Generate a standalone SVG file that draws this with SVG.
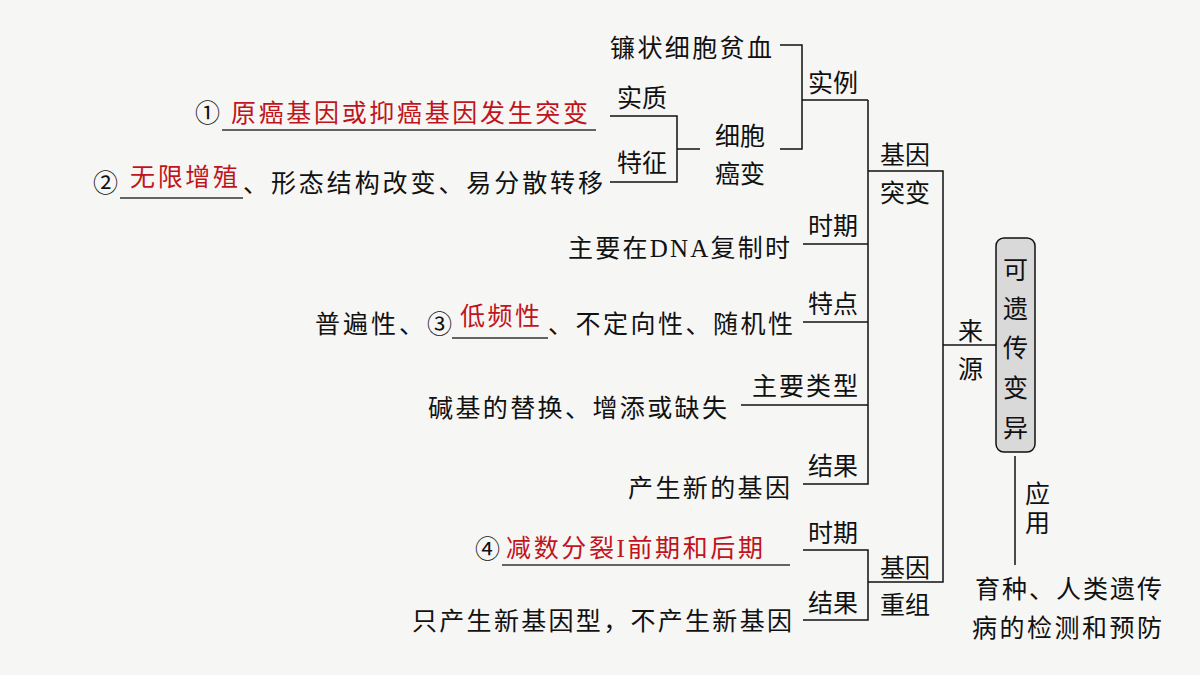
<svg xmlns="http://www.w3.org/2000/svg" width="1200" height="675" viewBox="0 0 1200 675">
<style>
text{font-family:"Liberation Serif","Noto Sans CJK SC",serif;font-size:25px;fill:#111}
.r{fill:#c0141c}
.l{stroke:#111;stroke-width:1.5;fill:none}
.u{stroke:#333;stroke-width:1.5;fill:none}
</style>
<rect width="1200" height="675" fill="#f6f6f5"/>
<g id="connectors">
<polyline class="l" points="780,45 802,45 802,149 780,149"/>
<line class="l" x1="802" y1="100" x2="868" y2="100"/>
<polyline class="l" points="610,116 677,116 677,182 610,182"/>
<line class="l" x1="677" y1="149" x2="700" y2="149"/>
<polyline class="l" points="868,100 868,484 803,484"/>
<line class="l" x1="803" y1="244" x2="868" y2="244"/>
<line class="l" x1="803" y1="322" x2="868" y2="322"/>
<line class="l" x1="741" y1="405" x2="868" y2="405"/>
<polyline class="l" points="868,171 943,171 943,582 868,582"/>
<polyline class="l" points="803,550 868,550 868,620 803,620"/>
<line class="l" x1="943" y1="345" x2="996" y2="345"/>
<line class="l" x1="1015" y1="456" x2="1015" y2="565"/>
<line class="u" x1="222" y1="130" x2="596" y2="130"/>
<line class="u" x1="120" y1="198" x2="243" y2="198"/>
<line class="u" x1="452" y1="338" x2="548" y2="338"/>
<line class="u" x1="502" y1="565" x2="790" y2="565"/>
</g>
<g id="root"><rect x="996" y="238" width="39" height="214" rx="8" fill="#d9d9d9" stroke="#111" stroke-width="1.5"/>
<text x="1003" y="279">可</text><text x="1003" y="318">遗</text><text x="1003" y="357">传</text><text x="1003" y="397">变</text><text x="1003" y="437">异</text></g>
<g id="n-source"><text x="958" y="340">来</text><text x="958" y="378">源</text></g>
<g id="n-apply"><text x="1025" y="503">应</text><text x="1025" y="532">用</text></g>
<g id="n-apply-text"><text x="975" y="598" textLength="187">育种、人类遗传</text><text x="972" y="637" textLength="190">病的检测和预防</text></g>
<g id="n-mut"><text x="880" y="164">基因</text><text x="880" y="202">突变</text></g>
<g id="n-rec"><text x="880" y="577">基因</text><text x="880" y="614">重组</text></g>
<g id="n-example"><text x="808" y="92">实例</text><text x="610" y="57" textLength="162">镰状细胞贫血</text></g>
<g id="n-cancer"><text x="715" y="145">细胞</text><text x="715" y="183">癌变</text></g>
<g id="n-essence"><text x="617" y="107">实质</text><text x="195" y="122">①</text><text class="r" x="231" y="122" textLength="357">原癌基因或抑癌基因发生突变</text></g>
<g id="n-feature"><text x="617" y="172">特征</text><text x="93" y="192">②</text><text class="r" x="130" y="186" textLength="108">无限增殖</text><text x="243" y="192" textLength="360">、形态结构改变、易分散转移</text></g>
<g id="n-period"><text x="808" y="235">时期</text><text x="568" y="257" textLength="222">主要在DNA复制时</text></g>
<g id="n-trait"><text x="808" y="313">特点</text><text x="315" y="333" textLength="137">普遍性、③</text><text class="r" x="460" y="325" textLength="80">低频性</text><text x="548" y="333" textLength="245">、不定向性、随机性</text></g>
<g id="n-type"><text x="752" y="395" textLength="106">主要类型</text><text x="428" y="417" textLength="299">碱基的替换、增添或缺失</text></g>
<g id="n-result"><text x="808" y="475">结果</text><text x="628" y="497" textLength="162">产生新的基因</text></g>
<g id="n-period2"><text x="808" y="542">时期</text><text x="475" y="558">④</text><text class="r" x="506" y="557" textLength="257">减数分裂I前期和后期</text></g>
<g id="n-result2"><text x="808" y="612">结果</text><text x="412" y="630" textLength="380">只产生新基因型，不产生新基因</text></g>
</svg>
